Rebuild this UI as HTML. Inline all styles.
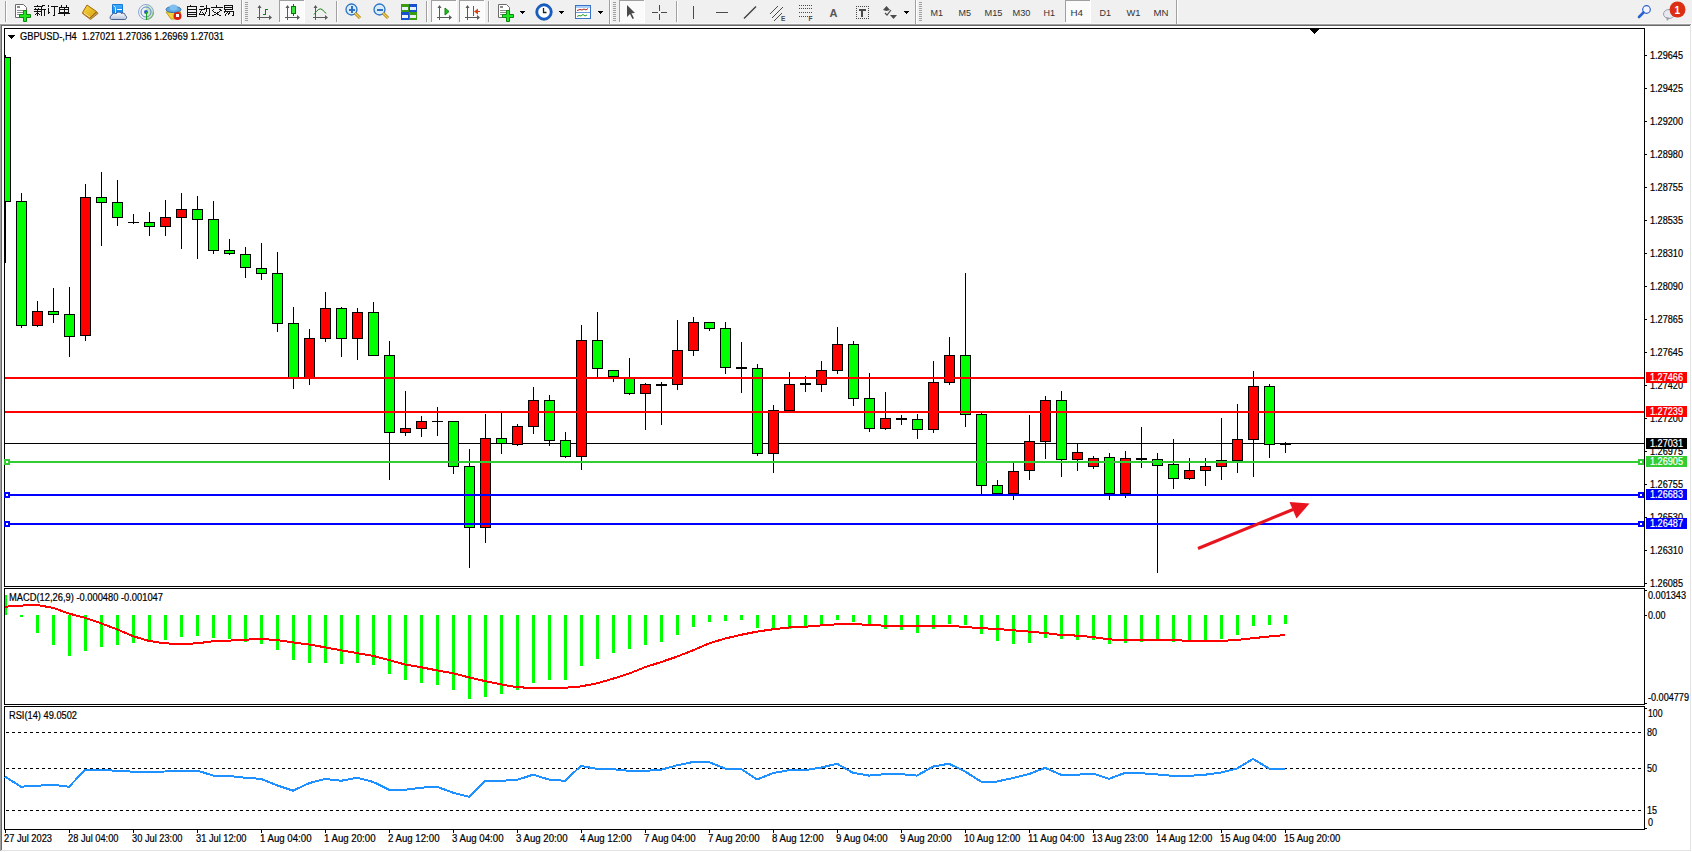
<!DOCTYPE html>
<html><head><meta charset="utf-8"><style>
html,body{margin:0;padding:0;width:1692px;height:852px;overflow:hidden;background:#fff}
svg{display:block}
text{font-family:"Liberation Sans",sans-serif;}
</style></head><body>
<svg width="1692" height="852" viewBox="0 0 1692 852" shape-rendering="crispEdges"><rect x="0" y="0" width="1692" height="24" fill="#f0f0f0"/>
<rect x="0" y="24" width="1691" height="1" fill="#a0a0a0"/>
<rect x="0" y="24" width="1" height="827" fill="#a0a0a0"/>
<rect x="1" y="25" width="1689" height="1" fill="#696969"/>
<rect x="1" y="25" width="1" height="825" fill="#696969"/>
<rect x="1691" y="24" width="1" height="828" fill="#ffffff"/>
<rect x="0" y="851" width="1692" height="1" fill="#ffffff"/>
<rect x="1690" y="25" width="1" height="826" fill="#e3e3e3"/>
<rect x="1" y="850" width="1690" height="1" fill="#e3e3e3"/>
<rect x="2" y="26" width="1688" height="824" fill="#ffffff"/>
<rect x="4" y="28" width="1641" height="1" fill="#000"/>
<rect x="4" y="586" width="1641" height="1" fill="#000"/>
<rect x="4" y="588" width="1641" height="1" fill="#000"/>
<rect x="4" y="704" width="1641" height="1" fill="#000"/>
<rect x="4" y="706" width="1641" height="1" fill="#000"/>
<rect x="4" y="829" width="1641" height="1" fill="#000"/>
<rect x="4" y="28" width="1" height="559" fill="#000"/>
<rect x="1644" y="28" width="1" height="559" fill="#000"/>
<rect x="4" y="588" width="1" height="117" fill="#000"/>
<rect x="1644" y="588" width="1" height="117" fill="#000"/>
<rect x="4" y="706" width="1" height="124" fill="#000"/>
<rect x="1644" y="706" width="1" height="124" fill="#000"/>
<polygon points="1309.5,29 1319.5,29 1314.5,34.5" fill="#000"/>
<rect x="5" y="443" width="1639" height="1" fill="#000"/>
<rect x="5" y="55" width="1" height="2" fill="#000"/>
<rect x="5" y="202" width="1" height="61" fill="#000"/>
<rect x="5" y="57" width="6" height="145" fill="#000"/>
<rect x="5" y="58" width="5" height="143" fill="#00ff00"/>
<rect x="21" y="193" width="1" height="8" fill="#000"/>
<rect x="21" y="326" width="1" height="2" fill="#000"/>
<rect x="16" y="201" width="11" height="125" fill="#000"/>
<rect x="17" y="202" width="9" height="123" fill="#00ff00"/>
<rect x="37" y="301" width="1" height="10" fill="#000"/>
<rect x="37" y="326" width="1" height="1" fill="#000"/>
<rect x="32" y="311" width="11" height="15" fill="#000"/>
<rect x="33" y="312" width="9" height="13" fill="#ff0000"/>
<rect x="53" y="288" width="1" height="23" fill="#000"/>
<rect x="53" y="315" width="1" height="8" fill="#000"/>
<rect x="48" y="311" width="11" height="4" fill="#000"/>
<rect x="49" y="312" width="9" height="2" fill="#00ff00"/>
<rect x="69" y="287" width="1" height="27" fill="#000"/>
<rect x="69" y="337" width="1" height="20" fill="#000"/>
<rect x="64" y="314" width="11" height="23" fill="#000"/>
<rect x="65" y="315" width="9" height="21" fill="#00ff00"/>
<rect x="85" y="184" width="1" height="13" fill="#000"/>
<rect x="85" y="336" width="1" height="5" fill="#000"/>
<rect x="80" y="197" width="11" height="139" fill="#000"/>
<rect x="81" y="198" width="9" height="137" fill="#ff0000"/>
<rect x="101" y="172" width="1" height="25" fill="#000"/>
<rect x="101" y="203" width="1" height="43" fill="#000"/>
<rect x="96" y="197" width="11" height="6" fill="#000"/>
<rect x="97" y="198" width="9" height="4" fill="#00ff00"/>
<rect x="117" y="180" width="1" height="22" fill="#000"/>
<rect x="117" y="218" width="1" height="8" fill="#000"/>
<rect x="112" y="202" width="11" height="16" fill="#000"/>
<rect x="113" y="203" width="9" height="14" fill="#00ff00"/>
<rect x="133" y="214" width="1" height="8" fill="#000"/>
<rect x="133" y="223" width="1" height="1" fill="#000"/>
<rect x="128" y="222" width="11" height="1" fill="#000"/>
<rect x="149" y="212" width="1" height="10" fill="#000"/>
<rect x="149" y="227" width="1" height="9" fill="#000"/>
<rect x="144" y="222" width="11" height="5" fill="#000"/>
<rect x="145" y="223" width="9" height="3" fill="#00ff00"/>
<rect x="165" y="200" width="1" height="17" fill="#000"/>
<rect x="165" y="227" width="1" height="9" fill="#000"/>
<rect x="160" y="217" width="11" height="10" fill="#000"/>
<rect x="161" y="218" width="9" height="8" fill="#ff0000"/>
<rect x="181" y="193" width="1" height="16" fill="#000"/>
<rect x="181" y="218" width="1" height="31" fill="#000"/>
<rect x="176" y="209" width="11" height="9" fill="#000"/>
<rect x="177" y="210" width="9" height="7" fill="#ff0000"/>
<rect x="197" y="196" width="1" height="13" fill="#000"/>
<rect x="197" y="220" width="1" height="39" fill="#000"/>
<rect x="192" y="209" width="11" height="11" fill="#000"/>
<rect x="193" y="210" width="9" height="9" fill="#00ff00"/>
<rect x="213" y="201" width="1" height="18" fill="#000"/>
<rect x="213" y="251" width="1" height="3" fill="#000"/>
<rect x="208" y="219" width="11" height="32" fill="#000"/>
<rect x="209" y="220" width="9" height="30" fill="#00ff00"/>
<rect x="229" y="239" width="1" height="11" fill="#000"/>
<rect x="229" y="254" width="1" height="1" fill="#000"/>
<rect x="224" y="250" width="11" height="4" fill="#000"/>
<rect x="225" y="251" width="9" height="2" fill="#00ff00"/>
<rect x="245" y="247" width="1" height="7" fill="#000"/>
<rect x="245" y="268" width="1" height="10" fill="#000"/>
<rect x="240" y="254" width="11" height="14" fill="#000"/>
<rect x="241" y="255" width="9" height="12" fill="#00ff00"/>
<rect x="261" y="243" width="1" height="25" fill="#000"/>
<rect x="261" y="274" width="1" height="6" fill="#000"/>
<rect x="256" y="268" width="11" height="6" fill="#000"/>
<rect x="257" y="269" width="9" height="4" fill="#00ff00"/>
<rect x="277" y="252" width="1" height="21" fill="#000"/>
<rect x="277" y="324" width="1" height="8" fill="#000"/>
<rect x="272" y="273" width="11" height="51" fill="#000"/>
<rect x="273" y="274" width="9" height="49" fill="#00ff00"/>
<rect x="293" y="307" width="1" height="16" fill="#000"/>
<rect x="293" y="378" width="1" height="11" fill="#000"/>
<rect x="288" y="323" width="11" height="55" fill="#000"/>
<rect x="289" y="324" width="9" height="53" fill="#00ff00"/>
<rect x="309" y="329" width="1" height="9" fill="#000"/>
<rect x="309" y="378" width="1" height="7" fill="#000"/>
<rect x="304" y="338" width="11" height="40" fill="#000"/>
<rect x="305" y="339" width="9" height="38" fill="#ff0000"/>
<rect x="325" y="292" width="1" height="16" fill="#000"/>
<rect x="325" y="339" width="1" height="3" fill="#000"/>
<rect x="320" y="308" width="11" height="31" fill="#000"/>
<rect x="321" y="309" width="9" height="29" fill="#ff0000"/>
<rect x="341" y="307" width="1" height="1" fill="#000"/>
<rect x="341" y="339" width="1" height="18" fill="#000"/>
<rect x="336" y="308" width="11" height="31" fill="#000"/>
<rect x="337" y="309" width="9" height="29" fill="#00ff00"/>
<rect x="357" y="308" width="1" height="4" fill="#000"/>
<rect x="357" y="339" width="1" height="21" fill="#000"/>
<rect x="352" y="312" width="11" height="27" fill="#000"/>
<rect x="353" y="313" width="9" height="25" fill="#ff0000"/>
<rect x="373" y="302" width="1" height="10" fill="#000"/>
<rect x="368" y="312" width="11" height="44" fill="#000"/>
<rect x="369" y="313" width="9" height="42" fill="#00ff00"/>
<rect x="389" y="341" width="1" height="14" fill="#000"/>
<rect x="389" y="433" width="1" height="47" fill="#000"/>
<rect x="384" y="355" width="11" height="78" fill="#000"/>
<rect x="385" y="356" width="9" height="76" fill="#00ff00"/>
<rect x="405" y="391" width="1" height="37" fill="#000"/>
<rect x="405" y="433" width="1" height="3" fill="#000"/>
<rect x="400" y="428" width="11" height="5" fill="#000"/>
<rect x="401" y="429" width="9" height="3" fill="#ff0000"/>
<rect x="421" y="416" width="1" height="5" fill="#000"/>
<rect x="421" y="429" width="1" height="8" fill="#000"/>
<rect x="416" y="421" width="11" height="8" fill="#000"/>
<rect x="417" y="422" width="9" height="6" fill="#ff0000"/>
<rect x="437" y="407" width="1" height="14" fill="#000"/>
<rect x="437" y="422" width="1" height="14" fill="#000"/>
<rect x="432" y="421" width="11" height="1" fill="#000"/>
<rect x="453" y="467" width="1" height="7" fill="#000"/>
<rect x="448" y="421" width="11" height="46" fill="#000"/>
<rect x="449" y="422" width="9" height="44" fill="#00ff00"/>
<rect x="469" y="449" width="1" height="17" fill="#000"/>
<rect x="469" y="528" width="1" height="40" fill="#000"/>
<rect x="464" y="466" width="11" height="62" fill="#000"/>
<rect x="465" y="467" width="9" height="60" fill="#00ff00"/>
<rect x="485" y="414" width="1" height="24" fill="#000"/>
<rect x="485" y="528" width="1" height="15" fill="#000"/>
<rect x="480" y="438" width="11" height="90" fill="#000"/>
<rect x="481" y="439" width="9" height="88" fill="#ff0000"/>
<rect x="501" y="413" width="1" height="25" fill="#000"/>
<rect x="501" y="444" width="1" height="10" fill="#000"/>
<rect x="496" y="438" width="11" height="6" fill="#000"/>
<rect x="497" y="439" width="9" height="4" fill="#00ff00"/>
<rect x="517" y="424" width="1" height="2" fill="#000"/>
<rect x="517" y="445" width="1" height="1" fill="#000"/>
<rect x="512" y="426" width="11" height="19" fill="#000"/>
<rect x="513" y="427" width="9" height="17" fill="#ff0000"/>
<rect x="533" y="387" width="1" height="13" fill="#000"/>
<rect x="533" y="427" width="1" height="7" fill="#000"/>
<rect x="528" y="400" width="11" height="27" fill="#000"/>
<rect x="529" y="401" width="9" height="25" fill="#ff0000"/>
<rect x="549" y="395" width="1" height="5" fill="#000"/>
<rect x="549" y="441" width="1" height="5" fill="#000"/>
<rect x="544" y="400" width="11" height="41" fill="#000"/>
<rect x="545" y="401" width="9" height="39" fill="#00ff00"/>
<rect x="565" y="432" width="1" height="8" fill="#000"/>
<rect x="565" y="457" width="1" height="1" fill="#000"/>
<rect x="560" y="440" width="11" height="17" fill="#000"/>
<rect x="561" y="441" width="9" height="15" fill="#00ff00"/>
<rect x="581" y="325" width="1" height="15" fill="#000"/>
<rect x="581" y="457" width="1" height="13" fill="#000"/>
<rect x="576" y="340" width="11" height="117" fill="#000"/>
<rect x="577" y="341" width="9" height="115" fill="#ff0000"/>
<rect x="597" y="312" width="1" height="28" fill="#000"/>
<rect x="597" y="369" width="1" height="9" fill="#000"/>
<rect x="592" y="340" width="11" height="29" fill="#000"/>
<rect x="593" y="341" width="9" height="27" fill="#00ff00"/>
<rect x="613" y="377" width="1" height="5" fill="#000"/>
<rect x="608" y="370" width="11" height="7" fill="#000"/>
<rect x="609" y="371" width="9" height="5" fill="#00ff00"/>
<rect x="629" y="358" width="1" height="20" fill="#000"/>
<rect x="629" y="394" width="1" height="1" fill="#000"/>
<rect x="624" y="378" width="11" height="16" fill="#000"/>
<rect x="625" y="379" width="9" height="14" fill="#00ff00"/>
<rect x="645" y="383" width="1" height="1" fill="#000"/>
<rect x="645" y="394" width="1" height="36" fill="#000"/>
<rect x="640" y="384" width="11" height="10" fill="#000"/>
<rect x="641" y="385" width="9" height="8" fill="#ff0000"/>
<rect x="661" y="382" width="1" height="2" fill="#000"/>
<rect x="661" y="386" width="1" height="39" fill="#000"/>
<rect x="656" y="384" width="11" height="2" fill="#000"/>
<rect x="677" y="320" width="1" height="30" fill="#000"/>
<rect x="677" y="385" width="1" height="5" fill="#000"/>
<rect x="672" y="350" width="11" height="35" fill="#000"/>
<rect x="673" y="351" width="9" height="33" fill="#ff0000"/>
<rect x="693" y="317" width="1" height="5" fill="#000"/>
<rect x="693" y="351" width="1" height="5" fill="#000"/>
<rect x="688" y="322" width="11" height="29" fill="#000"/>
<rect x="689" y="323" width="9" height="27" fill="#ff0000"/>
<rect x="709" y="329" width="1" height="2" fill="#000"/>
<rect x="704" y="322" width="11" height="7" fill="#000"/>
<rect x="705" y="323" width="9" height="5" fill="#00ff00"/>
<rect x="725" y="322" width="1" height="6" fill="#000"/>
<rect x="725" y="368" width="1" height="6" fill="#000"/>
<rect x="720" y="328" width="11" height="40" fill="#000"/>
<rect x="721" y="329" width="9" height="38" fill="#00ff00"/>
<rect x="741" y="342" width="1" height="25" fill="#000"/>
<rect x="741" y="369" width="1" height="24" fill="#000"/>
<rect x="736" y="367" width="11" height="2" fill="#000"/>
<rect x="757" y="364" width="1" height="4" fill="#000"/>
<rect x="757" y="454" width="1" height="2" fill="#000"/>
<rect x="752" y="368" width="11" height="86" fill="#000"/>
<rect x="753" y="369" width="9" height="84" fill="#00ff00"/>
<rect x="773" y="405" width="1" height="5" fill="#000"/>
<rect x="773" y="454" width="1" height="19" fill="#000"/>
<rect x="768" y="410" width="11" height="44" fill="#000"/>
<rect x="769" y="411" width="9" height="42" fill="#ff0000"/>
<rect x="789" y="372" width="1" height="12" fill="#000"/>
<rect x="784" y="384" width="11" height="27" fill="#000"/>
<rect x="785" y="385" width="9" height="25" fill="#ff0000"/>
<rect x="805" y="376" width="1" height="7" fill="#000"/>
<rect x="805" y="385" width="1" height="7" fill="#000"/>
<rect x="800" y="383" width="11" height="2" fill="#000"/>
<rect x="821" y="361" width="1" height="9" fill="#000"/>
<rect x="821" y="385" width="1" height="7" fill="#000"/>
<rect x="816" y="370" width="11" height="15" fill="#000"/>
<rect x="817" y="371" width="9" height="13" fill="#ff0000"/>
<rect x="837" y="327" width="1" height="17" fill="#000"/>
<rect x="837" y="371" width="1" height="3" fill="#000"/>
<rect x="832" y="344" width="11" height="27" fill="#000"/>
<rect x="833" y="345" width="9" height="25" fill="#ff0000"/>
<rect x="853" y="341" width="1" height="3" fill="#000"/>
<rect x="853" y="399" width="1" height="7" fill="#000"/>
<rect x="848" y="344" width="11" height="55" fill="#000"/>
<rect x="849" y="345" width="9" height="53" fill="#00ff00"/>
<rect x="869" y="373" width="1" height="25" fill="#000"/>
<rect x="869" y="429" width="1" height="3" fill="#000"/>
<rect x="864" y="398" width="11" height="31" fill="#000"/>
<rect x="865" y="399" width="9" height="29" fill="#00ff00"/>
<rect x="885" y="392" width="1" height="26" fill="#000"/>
<rect x="885" y="429" width="1" height="1" fill="#000"/>
<rect x="880" y="418" width="11" height="11" fill="#000"/>
<rect x="881" y="419" width="9" height="9" fill="#ff0000"/>
<rect x="901" y="415" width="1" height="3" fill="#000"/>
<rect x="901" y="420" width="1" height="5" fill="#000"/>
<rect x="896" y="418" width="11" height="2" fill="#000"/>
<rect x="917" y="414" width="1" height="5" fill="#000"/>
<rect x="917" y="430" width="1" height="9" fill="#000"/>
<rect x="912" y="419" width="11" height="11" fill="#000"/>
<rect x="913" y="420" width="9" height="9" fill="#00ff00"/>
<rect x="933" y="361" width="1" height="21" fill="#000"/>
<rect x="933" y="430" width="1" height="3" fill="#000"/>
<rect x="928" y="382" width="11" height="48" fill="#000"/>
<rect x="929" y="383" width="9" height="46" fill="#ff0000"/>
<rect x="949" y="337" width="1" height="18" fill="#000"/>
<rect x="949" y="383" width="1" height="2" fill="#000"/>
<rect x="944" y="355" width="11" height="28" fill="#000"/>
<rect x="945" y="356" width="9" height="26" fill="#ff0000"/>
<rect x="965" y="273" width="1" height="82" fill="#000"/>
<rect x="965" y="415" width="1" height="12" fill="#000"/>
<rect x="960" y="355" width="11" height="60" fill="#000"/>
<rect x="961" y="356" width="9" height="58" fill="#00ff00"/>
<rect x="981" y="413" width="1" height="1" fill="#000"/>
<rect x="981" y="486" width="1" height="8" fill="#000"/>
<rect x="976" y="414" width="11" height="72" fill="#000"/>
<rect x="977" y="415" width="9" height="70" fill="#00ff00"/>
<rect x="997" y="480" width="1" height="5" fill="#000"/>
<rect x="992" y="485" width="11" height="9" fill="#000"/>
<rect x="993" y="486" width="9" height="7" fill="#00ff00"/>
<rect x="1013" y="463" width="1" height="8" fill="#000"/>
<rect x="1013" y="494" width="1" height="6" fill="#000"/>
<rect x="1008" y="471" width="11" height="23" fill="#000"/>
<rect x="1009" y="472" width="9" height="21" fill="#ff0000"/>
<rect x="1029" y="415" width="1" height="26" fill="#000"/>
<rect x="1029" y="471" width="1" height="9" fill="#000"/>
<rect x="1024" y="441" width="11" height="30" fill="#000"/>
<rect x="1025" y="442" width="9" height="28" fill="#ff0000"/>
<rect x="1045" y="396" width="1" height="4" fill="#000"/>
<rect x="1045" y="442" width="1" height="17" fill="#000"/>
<rect x="1040" y="400" width="11" height="42" fill="#000"/>
<rect x="1041" y="401" width="9" height="40" fill="#ff0000"/>
<rect x="1061" y="391" width="1" height="9" fill="#000"/>
<rect x="1061" y="460" width="1" height="17" fill="#000"/>
<rect x="1056" y="400" width="11" height="60" fill="#000"/>
<rect x="1057" y="401" width="9" height="58" fill="#00ff00"/>
<rect x="1077" y="443" width="1" height="9" fill="#000"/>
<rect x="1077" y="460" width="1" height="11" fill="#000"/>
<rect x="1072" y="452" width="11" height="8" fill="#000"/>
<rect x="1073" y="453" width="9" height="6" fill="#ff0000"/>
<rect x="1093" y="456" width="1" height="2" fill="#000"/>
<rect x="1093" y="467" width="1" height="2" fill="#000"/>
<rect x="1088" y="458" width="11" height="9" fill="#000"/>
<rect x="1089" y="459" width="9" height="7" fill="#ff0000"/>
<rect x="1109" y="453" width="1" height="4" fill="#000"/>
<rect x="1109" y="494" width="1" height="6" fill="#000"/>
<rect x="1104" y="457" width="11" height="37" fill="#000"/>
<rect x="1105" y="458" width="9" height="35" fill="#00ff00"/>
<rect x="1125" y="451" width="1" height="7" fill="#000"/>
<rect x="1125" y="494" width="1" height="4" fill="#000"/>
<rect x="1120" y="458" width="11" height="36" fill="#000"/>
<rect x="1121" y="459" width="9" height="34" fill="#ff0000"/>
<rect x="1141" y="427" width="1" height="31" fill="#000"/>
<rect x="1141" y="460" width="1" height="8" fill="#000"/>
<rect x="1136" y="458" width="11" height="2" fill="#000"/>
<rect x="1157" y="453" width="1" height="6" fill="#000"/>
<rect x="1157" y="466" width="1" height="107" fill="#000"/>
<rect x="1152" y="459" width="11" height="7" fill="#000"/>
<rect x="1153" y="460" width="9" height="5" fill="#00ff00"/>
<rect x="1173" y="439" width="1" height="25" fill="#000"/>
<rect x="1173" y="479" width="1" height="10" fill="#000"/>
<rect x="1168" y="464" width="11" height="15" fill="#000"/>
<rect x="1169" y="465" width="9" height="13" fill="#00ff00"/>
<rect x="1189" y="458" width="1" height="12" fill="#000"/>
<rect x="1189" y="479" width="1" height="1" fill="#000"/>
<rect x="1184" y="470" width="11" height="9" fill="#000"/>
<rect x="1185" y="471" width="9" height="7" fill="#ff0000"/>
<rect x="1205" y="458" width="1" height="8" fill="#000"/>
<rect x="1205" y="471" width="1" height="15" fill="#000"/>
<rect x="1200" y="466" width="11" height="5" fill="#000"/>
<rect x="1201" y="467" width="9" height="3" fill="#ff0000"/>
<rect x="1221" y="418" width="1" height="42" fill="#000"/>
<rect x="1221" y="467" width="1" height="13" fill="#000"/>
<rect x="1216" y="460" width="11" height="7" fill="#000"/>
<rect x="1217" y="461" width="9" height="5" fill="#ff0000"/>
<rect x="1237" y="404" width="1" height="35" fill="#000"/>
<rect x="1237" y="461" width="1" height="12" fill="#000"/>
<rect x="1232" y="439" width="11" height="22" fill="#000"/>
<rect x="1233" y="440" width="9" height="20" fill="#ff0000"/>
<rect x="1253" y="371" width="1" height="15" fill="#000"/>
<rect x="1253" y="440" width="1" height="37" fill="#000"/>
<rect x="1248" y="386" width="11" height="54" fill="#000"/>
<rect x="1249" y="387" width="9" height="52" fill="#ff0000"/>
<rect x="1269" y="384" width="1" height="2" fill="#000"/>
<rect x="1269" y="445" width="1" height="13" fill="#000"/>
<rect x="1264" y="386" width="11" height="59" fill="#000"/>
<rect x="1265" y="387" width="9" height="57" fill="#00ff00"/>
<rect x="1285" y="442" width="1" height="1" fill="#000"/>
<rect x="1285" y="445" width="1" height="8" fill="#000"/>
<rect x="1280" y="443" width="11" height="2" fill="#000"/>
<rect x="5" y="377" width="1639" height="2" fill="#ff0000"/>
<rect x="5" y="411" width="1639" height="2" fill="#ff0000"/>
<rect x="5" y="461" width="1639" height="2" fill="#32cd32"/>
<rect x="4" y="459" width="6" height="6" fill="#32cd32"/>
<rect x="6" y="461" width="2" height="2" fill="#fff"/>
<rect x="1638" y="459" width="6" height="6" fill="#32cd32"/>
<rect x="1640" y="461" width="2" height="2" fill="#fff"/>
<rect x="5" y="494" width="1639" height="2" fill="#0000ff"/>
<rect x="4" y="492" width="6" height="6" fill="#0000ff"/>
<rect x="6" y="494" width="2" height="2" fill="#fff"/>
<rect x="1638" y="492" width="6" height="6" fill="#0000ff"/>
<rect x="1640" y="494" width="2" height="2" fill="#fff"/>
<rect x="5" y="523" width="1639" height="2" fill="#0000ff"/>
<rect x="4" y="521" width="6" height="6" fill="#0000ff"/>
<rect x="6" y="523" width="2" height="2" fill="#fff"/>
<rect x="1638" y="521" width="6" height="6" fill="#0000ff"/>
<rect x="1640" y="523" width="2" height="2" fill="#fff"/>
<rect x="5" y="595" width="2" height="20" fill="#00ff00"/>
<rect x="20" y="615" width="3" height="2" fill="#00ff00"/>
<rect x="36" y="615" width="3" height="18" fill="#00ff00"/>
<rect x="52" y="615" width="3" height="30" fill="#00ff00"/>
<rect x="68" y="615" width="3" height="41" fill="#00ff00"/>
<rect x="84" y="615" width="3" height="36" fill="#00ff00"/>
<rect x="100" y="615" width="3" height="32" fill="#00ff00"/>
<rect x="116" y="615" width="3" height="30" fill="#00ff00"/>
<rect x="132" y="615" width="3" height="28" fill="#00ff00"/>
<rect x="148" y="615" width="3" height="26" fill="#00ff00"/>
<rect x="164" y="615" width="3" height="25" fill="#00ff00"/>
<rect x="180" y="615" width="3" height="22" fill="#00ff00"/>
<rect x="196" y="615" width="3" height="21" fill="#00ff00"/>
<rect x="212" y="615" width="3" height="23" fill="#00ff00"/>
<rect x="228" y="615" width="3" height="24" fill="#00ff00"/>
<rect x="244" y="615" width="3" height="27" fill="#00ff00"/>
<rect x="260" y="615" width="3" height="29" fill="#00ff00"/>
<rect x="276" y="615" width="3" height="35" fill="#00ff00"/>
<rect x="292" y="615" width="3" height="45" fill="#00ff00"/>
<rect x="308" y="615" width="3" height="48" fill="#00ff00"/>
<rect x="324" y="615" width="3" height="48" fill="#00ff00"/>
<rect x="340" y="615" width="3" height="49" fill="#00ff00"/>
<rect x="356" y="615" width="3" height="48" fill="#00ff00"/>
<rect x="372" y="615" width="3" height="50" fill="#00ff00"/>
<rect x="388" y="615" width="3" height="59" fill="#00ff00"/>
<rect x="404" y="615" width="3" height="65" fill="#00ff00"/>
<rect x="420" y="615" width="3" height="68" fill="#00ff00"/>
<rect x="436" y="615" width="3" height="70" fill="#00ff00"/>
<rect x="452" y="615" width="3" height="75" fill="#00ff00"/>
<rect x="468" y="615" width="3" height="84" fill="#00ff00"/>
<rect x="484" y="615" width="3" height="82" fill="#00ff00"/>
<rect x="500" y="615" width="3" height="79" fill="#00ff00"/>
<rect x="516" y="615" width="3" height="75" fill="#00ff00"/>
<rect x="532" y="615" width="3" height="68" fill="#00ff00"/>
<rect x="548" y="615" width="3" height="65" fill="#00ff00"/>
<rect x="564" y="615" width="3" height="65" fill="#00ff00"/>
<rect x="580" y="615" width="3" height="51" fill="#00ff00"/>
<rect x="596" y="615" width="3" height="44" fill="#00ff00"/>
<rect x="612" y="615" width="3" height="38" fill="#00ff00"/>
<rect x="628" y="615" width="3" height="34" fill="#00ff00"/>
<rect x="644" y="615" width="3" height="30" fill="#00ff00"/>
<rect x="660" y="615" width="3" height="27" fill="#00ff00"/>
<rect x="676" y="615" width="3" height="20" fill="#00ff00"/>
<rect x="692" y="615" width="3" height="12" fill="#00ff00"/>
<rect x="708" y="615" width="3" height="7" fill="#00ff00"/>
<rect x="724" y="615" width="3" height="6" fill="#00ff00"/>
<rect x="740" y="615" width="3" height="5" fill="#00ff00"/>
<rect x="756" y="615" width="3" height="13" fill="#00ff00"/>
<rect x="772" y="615" width="3" height="14" fill="#00ff00"/>
<rect x="788" y="615" width="3" height="14" fill="#00ff00"/>
<rect x="804" y="615" width="3" height="13" fill="#00ff00"/>
<rect x="820" y="615" width="3" height="10" fill="#00ff00"/>
<rect x="836" y="615" width="3" height="5" fill="#00ff00"/>
<rect x="852" y="615" width="3" height="7" fill="#00ff00"/>
<rect x="868" y="615" width="3" height="10" fill="#00ff00"/>
<rect x="884" y="615" width="3" height="14" fill="#00ff00"/>
<rect x="900" y="615" width="3" height="15" fill="#00ff00"/>
<rect x="916" y="615" width="3" height="18" fill="#00ff00"/>
<rect x="932" y="615" width="3" height="14" fill="#00ff00"/>
<rect x="948" y="615" width="3" height="9" fill="#00ff00"/>
<rect x="964" y="615" width="3" height="10" fill="#00ff00"/>
<rect x="980" y="615" width="3" height="19" fill="#00ff00"/>
<rect x="996" y="615" width="3" height="26" fill="#00ff00"/>
<rect x="1012" y="615" width="3" height="29" fill="#00ff00"/>
<rect x="1028" y="615" width="3" height="28" fill="#00ff00"/>
<rect x="1044" y="615" width="3" height="23" fill="#00ff00"/>
<rect x="1060" y="615" width="3" height="24" fill="#00ff00"/>
<rect x="1076" y="615" width="3" height="25" fill="#00ff00"/>
<rect x="1092" y="615" width="3" height="25" fill="#00ff00"/>
<rect x="1108" y="615" width="3" height="29" fill="#00ff00"/>
<rect x="1124" y="615" width="3" height="28" fill="#00ff00"/>
<rect x="1140" y="615" width="3" height="27" fill="#00ff00"/>
<rect x="1156" y="615" width="3" height="25" fill="#00ff00"/>
<rect x="1172" y="615" width="3" height="27" fill="#00ff00"/>
<rect x="1188" y="615" width="3" height="27" fill="#00ff00"/>
<rect x="1204" y="615" width="3" height="25" fill="#00ff00"/>
<rect x="1220" y="615" width="3" height="24" fill="#00ff00"/>
<rect x="1236" y="615" width="3" height="20" fill="#00ff00"/>
<rect x="1252" y="615" width="3" height="11" fill="#00ff00"/>
<rect x="1268" y="615" width="3" height="10" fill="#00ff00"/>
<rect x="1284" y="615" width="3" height="9" fill="#00ff00"/>
<polyline points="5,606.7 21,605.6 37,605.0 53,607.8 69,613.6 85,617.8 101,623.3 117,629.3 133,636.2 149,640.9 165,643.4 181,643.8 197,643.4 213,641.2 229,640.6 245,639.7 261,639.0 277,640.0 293,642.4 309,644.5 325,647.3 341,650.3 357,653.1 373,655.9 389,660.0 405,664.5 421,667.2 437,670.4 453,673.2 469,677.4 485,681.1 501,684.3 517,687.3 533,687.8 549,687.8 565,687.8 581,686.4 597,683.3 613,678.7 629,673.6 645,667.2 661,662.1 677,656.6 693,650.3 709,643.4 725,638.6 741,634.8 757,631.6 773,629.3 789,627.5 805,626.8 821,625.4 837,624.3 853,624.0 869,624.9 885,625.7 901,625.7 917,625.7 933,625.7 949,625.7 965,627.0 981,628.2 997,628.9 1013,630.3 1029,631.6 1045,633.0 1061,635.0 1077,635.6 1093,637.0 1109,639.4 1125,640.0 1141,640.0 1157,640.0 1173,640.0 1189,640.9 1205,640.9 1221,640.9 1237,640.0 1253,638.2 1269,636.5 1285,635.0" fill="none" stroke="#ff0000" stroke-width="2" shape-rendering="crispEdges"/>
<line x1="6" y1="732.5" x2="1641" y2="732.5" stroke="#000" stroke-width="1" stroke-dasharray="3 3" shape-rendering="crispEdges"/>
<line x1="6" y1="768.5" x2="1641" y2="768.5" stroke="#000" stroke-width="1" stroke-dasharray="3 3" shape-rendering="crispEdges"/>
<line x1="6" y1="810.5" x2="1641" y2="810.5" stroke="#000" stroke-width="1" stroke-dasharray="3 3" shape-rendering="crispEdges"/>
<polyline points="5,776.7 21,786.7 37,785.8 53,784.7 69,786.8 85,769.9 101,769.8 117,770.8 133,771.7 149,771.7 165,771.5 181,770.5 197,770.5 213,775.5 229,776.0 245,777.7 261,778.9 277,785.4 293,790.7 309,783.2 325,778.9 341,780.8 357,777.7 373,781.9 389,789.7 405,789.7 421,787.7 437,786.8 453,792.7 469,796.8 485,781.0 501,780.8 517,779.9 533,774.7 549,779.6 565,780.8 581,765.9 597,768.9 613,769.2 629,770.8 645,770.8 661,769.8 677,765.3 693,762.0 709,762.0 725,768.6 741,768.9 757,779.6 773,773.1 789,770.2 805,770.2 821,767.6 837,763.7 853,772.8 869,775.6 885,774.1 901,774.1 917,775.6 933,766.6 949,763.7 965,771.5 981,781.5 997,781.5 1013,778.0 1029,774.1 1045,767.9 1061,774.7 1077,774.7 1093,773.6 1109,778.8 1125,772.9 1141,773.2 1157,774.4 1173,775.9 1189,775.9 1205,774.7 1221,772.6 1237,768.5 1253,758.9 1269,768.5 1285,768.5" fill="none" stroke="#1e90ff" stroke-width="2" shape-rendering="crispEdges"/>
<line x1="1198" y1="548.5" x2="1293" y2="509.5" stroke="#e8141e" stroke-width="3" shape-rendering="geometricPrecision"/>
<polygon points="1289.5,502 1309.5,503.5 1296.5,518.5" fill="#e8141e" shape-rendering="geometricPrecision"/>
<polygon points="7.5,35 15.5,35 11.5,39" fill="#000"/>
<text x="20" y="40" fill="#000" stroke="#000" stroke-width="0.2" font-size="10" textLength="204" lengthAdjust="spacingAndGlyphs" xml:space="preserve" style="white-space:pre">GBPUSD-,H4  1.27021 1.27036 1.26969 1.27031</text>
<text x="9" y="601" fill="#000" stroke="#000" stroke-width="0.2" font-size="10" textLength="154" lengthAdjust="spacingAndGlyphs">MACD(12,26,9) -0.000480 -0.001047</text>
<text x="9" y="719" fill="#000" stroke="#000" stroke-width="0.2" font-size="10" textLength="68" lengthAdjust="spacingAndGlyphs">RSI(14) 49.0502</text>
<rect x="1645" y="55" width="2" height="1" fill="#000"/>
<text x="1650" y="59" fill="#000" stroke="#000" stroke-width="0.2" font-size="10" textLength="33" lengthAdjust="spacingAndGlyphs">1.29645</text>
<rect x="1645" y="88" width="2" height="1" fill="#000"/>
<text x="1650" y="92" fill="#000" stroke="#000" stroke-width="0.2" font-size="10" textLength="33" lengthAdjust="spacingAndGlyphs">1.29425</text>
<rect x="1645" y="121" width="2" height="1" fill="#000"/>
<text x="1650" y="125" fill="#000" stroke="#000" stroke-width="0.2" font-size="10" textLength="33" lengthAdjust="spacingAndGlyphs">1.29200</text>
<rect x="1645" y="154" width="2" height="1" fill="#000"/>
<text x="1650" y="158" fill="#000" stroke="#000" stroke-width="0.2" font-size="10" textLength="33" lengthAdjust="spacingAndGlyphs">1.28980</text>
<rect x="1645" y="187" width="2" height="1" fill="#000"/>
<text x="1650" y="191" fill="#000" stroke="#000" stroke-width="0.2" font-size="10" textLength="33" lengthAdjust="spacingAndGlyphs">1.28755</text>
<rect x="1645" y="220" width="2" height="1" fill="#000"/>
<text x="1650" y="224" fill="#000" stroke="#000" stroke-width="0.2" font-size="10" textLength="33" lengthAdjust="spacingAndGlyphs">1.28535</text>
<rect x="1645" y="253" width="2" height="1" fill="#000"/>
<text x="1650" y="257" fill="#000" stroke="#000" stroke-width="0.2" font-size="10" textLength="33" lengthAdjust="spacingAndGlyphs">1.28310</text>
<rect x="1645" y="286" width="2" height="1" fill="#000"/>
<text x="1650" y="290" fill="#000" stroke="#000" stroke-width="0.2" font-size="10" textLength="33" lengthAdjust="spacingAndGlyphs">1.28090</text>
<rect x="1645" y="319" width="2" height="1" fill="#000"/>
<text x="1650" y="323" fill="#000" stroke="#000" stroke-width="0.2" font-size="10" textLength="33" lengthAdjust="spacingAndGlyphs">1.27865</text>
<rect x="1645" y="352" width="2" height="1" fill="#000"/>
<text x="1650" y="356" fill="#000" stroke="#000" stroke-width="0.2" font-size="10" textLength="33" lengthAdjust="spacingAndGlyphs">1.27645</text>
<rect x="1645" y="385" width="2" height="1" fill="#000"/>
<text x="1650" y="389" fill="#000" stroke="#000" stroke-width="0.2" font-size="10" textLength="33" lengthAdjust="spacingAndGlyphs">1.27420</text>
<rect x="1645" y="418" width="2" height="1" fill="#000"/>
<text x="1650" y="422" fill="#000" stroke="#000" stroke-width="0.2" font-size="10" textLength="33" lengthAdjust="spacingAndGlyphs">1.27200</text>
<rect x="1645" y="451" width="2" height="1" fill="#000"/>
<text x="1650" y="455" fill="#000" stroke="#000" stroke-width="0.2" font-size="10" textLength="33" lengthAdjust="spacingAndGlyphs">1.26975</text>
<rect x="1645" y="484" width="2" height="1" fill="#000"/>
<text x="1650" y="488" fill="#000" stroke="#000" stroke-width="0.2" font-size="10" textLength="33" lengthAdjust="spacingAndGlyphs">1.26755</text>
<rect x="1645" y="517" width="2" height="1" fill="#000"/>
<text x="1650" y="521" fill="#000" stroke="#000" stroke-width="0.2" font-size="10" textLength="33" lengthAdjust="spacingAndGlyphs">1.26530</text>
<rect x="1645" y="550" width="2" height="1" fill="#000"/>
<text x="1650" y="554" fill="#000" stroke="#000" stroke-width="0.2" font-size="10" textLength="33" lengthAdjust="spacingAndGlyphs">1.26310</text>
<rect x="1645" y="583" width="2" height="1" fill="#000"/>
<text x="1650" y="587" fill="#000" stroke="#000" stroke-width="0.2" font-size="10" textLength="33" lengthAdjust="spacingAndGlyphs">1.26085</text>
<rect x="1646" y="372" width="41" height="11" fill="#ff0000"/>
<text x="1650" y="381" fill="#fff" stroke="#fff" stroke-width="0.2" font-size="10" textLength="33" lengthAdjust="spacingAndGlyphs">1.27466</text>
<rect x="1646" y="406" width="41" height="11" fill="#ff0000"/>
<text x="1650" y="415" fill="#fff" stroke="#fff" stroke-width="0.2" font-size="10" textLength="33" lengthAdjust="spacingAndGlyphs">1.27239</text>
<rect x="1646" y="438" width="41" height="11" fill="#000000"/>
<text x="1650" y="447" fill="#fff" stroke="#fff" stroke-width="0.2" font-size="10" textLength="33" lengthAdjust="spacingAndGlyphs">1.27031</text>
<rect x="1646" y="456" width="41" height="11" fill="#32cd32"/>
<text x="1650" y="465" fill="#fff" stroke="#fff" stroke-width="0.2" font-size="10" textLength="33" lengthAdjust="spacingAndGlyphs">1.26905</text>
<rect x="1646" y="489" width="41" height="11" fill="#0000ff"/>
<text x="1650" y="498" fill="#fff" stroke="#fff" stroke-width="0.2" font-size="10" textLength="33" lengthAdjust="spacingAndGlyphs">1.26683</text>
<rect x="1646" y="518" width="41" height="11" fill="#0000ff"/>
<text x="1650" y="527" fill="#fff" stroke="#fff" stroke-width="0.2" font-size="10" textLength="33" lengthAdjust="spacingAndGlyphs">1.26487</text>
<rect x="1645" y="590" width="2" height="1" fill="#000"/>
<text x="1648" y="599" fill="#000" stroke="#000" stroke-width="0.2" font-size="10" textLength="38" lengthAdjust="spacingAndGlyphs">0.001343</text>
<rect x="1645" y="615" width="2" height="1" fill="#000"/>
<text x="1648" y="619" fill="#000" stroke="#000" stroke-width="0.2" font-size="10" textLength="17.5" lengthAdjust="spacingAndGlyphs">0.00</text>
<rect x="1645" y="703" width="2" height="1" fill="#000"/>
<text x="1648" y="701" fill="#000" stroke="#000" stroke-width="0.2" font-size="10" textLength="41" lengthAdjust="spacingAndGlyphs">-0.004779</text>
<rect x="1645" y="708" width="2" height="1" fill="#000"/>
<text x="1648" y="717" fill="#000" stroke="#000" stroke-width="0.2" font-size="10" textLength="14.5" lengthAdjust="spacingAndGlyphs">100</text>
<text x="1647" y="736" fill="#000" stroke="#000" stroke-width="0.2" font-size="10" textLength="10" lengthAdjust="spacingAndGlyphs">80</text>
<text x="1647" y="772" fill="#000" stroke="#000" stroke-width="0.2" font-size="10" textLength="10" lengthAdjust="spacingAndGlyphs">50</text>
<text x="1647" y="814" fill="#000" stroke="#000" stroke-width="0.2" font-size="10" textLength="10" lengthAdjust="spacingAndGlyphs">15</text>
<rect x="1645" y="828" width="2" height="1" fill="#000"/>
<text x="1648" y="826" fill="#000" stroke="#000" stroke-width="0.2" font-size="10" textLength="5" lengthAdjust="spacingAndGlyphs">0</text>
<rect x="5" y="830" width="1" height="3" fill="#000"/>
<text x="4" y="842" fill="#000" stroke="#000" stroke-width="0.2" font-size="10" textLength="48" lengthAdjust="spacingAndGlyphs">27 Jul 2023</text>
<rect x="69" y="830" width="1" height="3" fill="#000"/>
<text x="68" y="842" fill="#000" stroke="#000" stroke-width="0.2" font-size="10" textLength="50.5" lengthAdjust="spacingAndGlyphs">28 Jul 04:00</text>
<rect x="133" y="830" width="1" height="3" fill="#000"/>
<text x="132" y="842" fill="#000" stroke="#000" stroke-width="0.2" font-size="10" textLength="50.5" lengthAdjust="spacingAndGlyphs">30 Jul 23:00</text>
<rect x="197" y="830" width="1" height="3" fill="#000"/>
<text x="196" y="842" fill="#000" stroke="#000" stroke-width="0.2" font-size="10" textLength="50.5" lengthAdjust="spacingAndGlyphs">31 Jul 12:00</text>
<rect x="261" y="830" width="1" height="3" fill="#000"/>
<text x="260" y="842" fill="#000" stroke="#000" stroke-width="0.2" font-size="10" textLength="51.5" lengthAdjust="spacingAndGlyphs">1 Aug 04:00</text>
<rect x="325" y="830" width="1" height="3" fill="#000"/>
<text x="324" y="842" fill="#000" stroke="#000" stroke-width="0.2" font-size="10" textLength="51.5" lengthAdjust="spacingAndGlyphs">1 Aug 20:00</text>
<rect x="389" y="830" width="1" height="3" fill="#000"/>
<text x="388" y="842" fill="#000" stroke="#000" stroke-width="0.2" font-size="10" textLength="51.5" lengthAdjust="spacingAndGlyphs">2 Aug 12:00</text>
<rect x="453" y="830" width="1" height="3" fill="#000"/>
<text x="452" y="842" fill="#000" stroke="#000" stroke-width="0.2" font-size="10" textLength="51.5" lengthAdjust="spacingAndGlyphs">3 Aug 04:00</text>
<rect x="517" y="830" width="1" height="3" fill="#000"/>
<text x="516" y="842" fill="#000" stroke="#000" stroke-width="0.2" font-size="10" textLength="51.5" lengthAdjust="spacingAndGlyphs">3 Aug 20:00</text>
<rect x="581" y="830" width="1" height="3" fill="#000"/>
<text x="580" y="842" fill="#000" stroke="#000" stroke-width="0.2" font-size="10" textLength="51.5" lengthAdjust="spacingAndGlyphs">4 Aug 12:00</text>
<rect x="645" y="830" width="1" height="3" fill="#000"/>
<text x="644" y="842" fill="#000" stroke="#000" stroke-width="0.2" font-size="10" textLength="51.5" lengthAdjust="spacingAndGlyphs">7 Aug 04:00</text>
<rect x="709" y="830" width="1" height="3" fill="#000"/>
<text x="708" y="842" fill="#000" stroke="#000" stroke-width="0.2" font-size="10" textLength="51.5" lengthAdjust="spacingAndGlyphs">7 Aug 20:00</text>
<rect x="773" y="830" width="1" height="3" fill="#000"/>
<text x="772" y="842" fill="#000" stroke="#000" stroke-width="0.2" font-size="10" textLength="51.5" lengthAdjust="spacingAndGlyphs">8 Aug 12:00</text>
<rect x="837" y="830" width="1" height="3" fill="#000"/>
<text x="836" y="842" fill="#000" stroke="#000" stroke-width="0.2" font-size="10" textLength="51.5" lengthAdjust="spacingAndGlyphs">9 Aug 04:00</text>
<rect x="901" y="830" width="1" height="3" fill="#000"/>
<text x="900" y="842" fill="#000" stroke="#000" stroke-width="0.2" font-size="10" textLength="51.5" lengthAdjust="spacingAndGlyphs">9 Aug 20:00</text>
<rect x="965" y="830" width="1" height="3" fill="#000"/>
<text x="964" y="842" fill="#000" stroke="#000" stroke-width="0.2" font-size="10" textLength="56.3" lengthAdjust="spacingAndGlyphs">10 Aug 12:00</text>
<rect x="1029" y="830" width="1" height="3" fill="#000"/>
<text x="1028" y="842" fill="#000" stroke="#000" stroke-width="0.2" font-size="10" textLength="56.3" lengthAdjust="spacingAndGlyphs">11 Aug 04:00</text>
<rect x="1093" y="830" width="1" height="3" fill="#000"/>
<text x="1092" y="842" fill="#000" stroke="#000" stroke-width="0.2" font-size="10" textLength="56.3" lengthAdjust="spacingAndGlyphs">13 Aug 23:00</text>
<rect x="1157" y="830" width="1" height="3" fill="#000"/>
<text x="1156" y="842" fill="#000" stroke="#000" stroke-width="0.2" font-size="10" textLength="56.3" lengthAdjust="spacingAndGlyphs">14 Aug 12:00</text>
<rect x="1221" y="830" width="1" height="3" fill="#000"/>
<text x="1220" y="842" fill="#000" stroke="#000" stroke-width="0.2" font-size="10" textLength="56.3" lengthAdjust="spacingAndGlyphs">15 Aug 04:00</text>
<rect x="1285" y="830" width="1" height="3" fill="#000"/>
<text x="1284" y="842" fill="#000" stroke="#000" stroke-width="0.2" font-size="10" textLength="56.3" lengthAdjust="spacingAndGlyphs">15 Aug 20:00</text>
<rect x="0" y="23" width="1692" height="1" fill="#f7f7f7"/>
<rect x="5" y="1" width="1" height="21" fill="#a0a0a0"/>
<rect x="6" y="1" width="1" height="21" fill="#ffffff"/>
<path d="M15.5,4.5 h8 l3,3 v10 h-11 z" fill="#ffffff" stroke="#6a6a6a" stroke-width="1" shape-rendering="geometricPrecision"/>
<rect x="17" y="6" width="3" height="2" fill="#8a8a8a"/>
<rect x="17" y="10" width="7" height="1" fill="#8a8a8a"/>
<rect x="17" y="12" width="6" height="1" fill="#8a8a8a"/>
<rect x="17" y="14" width="5" height="1" fill="#8a8a8a"/>
<path d="M23.5,10.5 h3 v4 h4 v3 h-4 v4 h-3 v-4 h-4 v-3 h4 z" fill="#22e622" stroke="#0a8a0a" stroke-width="1" shape-rendering="geometricPrecision"/>
<path d="M3.5,0 v1.5 M0,1.5 h6.5 M1.5,2.5 v1 M4.5,2.5 v1 M0,4.5 h6.5 M0,6.5 h6.5 M3.5,4.5 v6 M2.5,8.5 l-2,2 M4.5,8.5 l1.5,1.5 M10.5,0 l-3,1.5 M7.5,1.5 v9 M7.5,4.5 h4.5 M10.5,4.5 v6.5" fill="none" stroke="#111" stroke-width="1" transform="translate(34,5)" shape-rendering="crispEdges"/>
<path d="M2,0 l1,1.5 M1.5,3.5 h1 v5 l1.5,-1.5 M5,1.5 h7 M8.5,1.5 v9 h-2" fill="none" stroke="#111" stroke-width="1" transform="translate(46,5)" shape-rendering="crispEdges"/>
<path d="M3,0 l1,1.5 M9,0 l-1,1.5 M1.5,2.5 h9 v5 h-9 z M1.5,4.5 h9 M6.5,2.5 v8 M0,8.5 h12" fill="none" stroke="#111" stroke-width="1" transform="translate(58,5)" shape-rendering="crispEdges"/>
<defs><linearGradient id="bk" x1="0" y1="0" x2="1" y2="1"><stop offset="0" stop-color="#f8d840"/><stop offset="1" stop-color="#d8a010"/></linearGradient><linearGradient id="cl" x1="0" y1="0" x2="0" y2="1"><stop offset="0" stop-color="#ffffff"/><stop offset="1" stop-color="#b8c4d8"/></linearGradient><linearGradient id="bx" x1="0" y1="0" x2="0" y2="1"><stop offset="0" stop-color="#40b0ff"/><stop offset="1" stop-color="#0a80e8"/></linearGradient></defs>
<path d="M82.5,13.5 L90.5,19.5 L98,13.5 L97,12 L90,18 L83,12.5 Z" fill="#c8a050" stroke="#9a6010" stroke-width="0.8" shape-rendering="geometricPrecision"/>
<path d="M87,5 L96.5,11.5 L90,18 L82.5,12.5 Z" fill="url(#bk)" stroke="#a06a10" stroke-width="1" shape-rendering="geometricPrecision"/>
<path d="M84,13.2 L90,17.2" fill="none" stroke="#f8e8a0" stroke-width="1" shape-rendering="geometricPrecision"/>
<path d="M112.5,4.5 h10 v9 h-10 z" fill="url(#bx)" stroke="#1a78d8" stroke-width="1" shape-rendering="geometricPrecision"/>
<path d="M113.5,5.5 l2,2 v6" fill="none" stroke="#d0ecff" stroke-width="1" shape-rendering="geometricPrecision"/>
<rect x="117" y="9" width="5" height="1" fill="#ffffff"/>
<path d="M111.5,19.5 c-2,0 -2,-4 0.5,-4.5 c0.5,-2 3,-2.5 4,-1 c1,-2 4,-2.5 5.5,-0.5 c1.5,-1 4,0 3.8,2 c2,0.5 1.5,4 -0.5,4 z" fill="url(#cl)" stroke="#4a5f90" stroke-width="1" shape-rendering="geometricPrecision"/>
<path d="M146,12 L146,4.5 A7.5,7.5 0 0,1 146,19.5 Z" fill="#c8e4c0" shape-rendering="geometricPrecision"/>
<circle cx="146" cy="12" r="7.5" fill="none" stroke="#8aa8d8" stroke-width="1" shape-rendering="geometricPrecision"/>
<circle cx="146" cy="12" r="5" fill="none" stroke="#5a88d0" stroke-width="1" shape-rendering="geometricPrecision"/>
<path d="M146,19.5 a7.5,7.5 0 0,0 7.5,-7.5" fill="none" stroke="#7ab070" stroke-width="1.2" shape-rendering="geometricPrecision"/>
<circle cx="146" cy="12" r="2" fill="#2a62c8" shape-rendering="geometricPrecision"/>
<rect x="146" y="12" width="1" height="8" fill="#20a020"/>
<path d="M166,12 L181,12 L175,19 L171,19 Z" fill="#f0d040" stroke="#c0a020" stroke-width="1" shape-rendering="geometricPrecision"/>
<ellipse cx="173.5" cy="9.5" rx="7.5" ry="3" fill="#60a8e0" stroke="#3070b0" stroke-width="1" shape-rendering="geometricPrecision"/>
<ellipse cx="173.5" cy="7.5" rx="4" ry="3" fill="#80c0f0" shape-rendering="geometricPrecision"/>
<circle cx="177.5" cy="16" r="4" fill="#d82010" shape-rendering="geometricPrecision"/>
<rect x="176" y="14" width="3" height="3" fill="#ffffff"/>
<path d="M4,0 l-1,1.5 M0.5,1.5 h9 v9.5 h-9 z M0.5,4.5 h9 M0.5,7 h9 M0.5,9.5 h9" fill="none" stroke="#111" stroke-width="1" transform="translate(187,5)" shape-rendering="crispEdges"/>
<path d="M0.5,1.5 h4.5 M0,4.5 h6 M2.5,4.5 l-2,5 h4.5 M3.5,7.5 l1.5,2.5 M4.5,3 h6 v7.5 h-2 M7.5,0 v6 l-2.5,4.5" fill="none" stroke="#111" stroke-width="1" transform="translate(199,5)" shape-rendering="crispEdges"/>
<path d="M5.5,0 v1.5 M0,2.5 h11.5 M3,4 l-2,2 M8.5,4 l2,2 M2.5,6.5 l7,4.5 M9,6.5 l-7.5,4.5" fill="none" stroke="#111" stroke-width="1" transform="translate(211,5)" shape-rendering="crispEdges"/>
<path d="M1.5,0.5 h8 v4 h-8 z M1.5,2.5 h8 M3,5.5 l-2,2 M2.5,6.5 h8 v4 h-1.5 M5,6.5 l-3,4 M7.5,6.5 l-3,4" fill="none" stroke="#111" stroke-width="1" transform="translate(223,5)" shape-rendering="crispEdges"/>
<rect x="241" y="0" width="1" height="24" fill="#a0a0a0"/>
<rect x="242" y="0" width="1" height="24" fill="#ffffff"/>
<rect x="245" y="2" width="3" height="1" fill="#a0a0a0"/>
<rect x="245" y="4" width="3" height="1" fill="#a0a0a0"/>
<rect x="245" y="6" width="3" height="1" fill="#a0a0a0"/>
<rect x="245" y="8" width="3" height="1" fill="#a0a0a0"/>
<rect x="245" y="10" width="3" height="1" fill="#a0a0a0"/>
<rect x="245" y="12" width="3" height="1" fill="#a0a0a0"/>
<rect x="245" y="14" width="3" height="1" fill="#a0a0a0"/>
<rect x="245" y="16" width="3" height="1" fill="#a0a0a0"/>
<rect x="245" y="18" width="3" height="1" fill="#a0a0a0"/>
<rect x="245" y="20" width="3" height="1" fill="#a0a0a0"/>
<rect x="259" y="6" width="1" height="14" fill="#5a5a5a"/>
<rect x="257" y="17" width="14" height="1" fill="#5a5a5a"/>
<polygon points="257.5,8 259.5,5 261.5,8" fill="#5a5a5a" shape-rendering="geometricPrecision"/>
<polygon points="269,15 272,17.5 269,20" fill="#5a5a5a" shape-rendering="geometricPrecision"/>
<rect x="265" y="9" width="1" height="6" fill="#108010"/>
<rect x="265" y="9" width="3" height="1" fill="#108010"/>
<rect x="263" y="14" width="2" height="1" fill="#108010"/>
<rect x="279" y="0" width="25" height="23" fill="#fbfbfb"/>
<rect x="279" y="0" width="25" height="1" fill="#a0a0a0"/>
<rect x="279" y="0" width="1" height="22" fill="#a0a0a0"/>
<rect x="279" y="22" width="26" height="1" fill="#ffffff"/>
<rect x="304" y="0" width="1" height="23" fill="#ffffff"/>
<rect x="287" y="6" width="1" height="14" fill="#5a5a5a"/>
<rect x="285" y="17" width="14" height="1" fill="#5a5a5a"/>
<polygon points="285.5,8 287.5,5 289.5,8" fill="#5a5a5a" shape-rendering="geometricPrecision"/>
<polygon points="297,15 300,17.5 297,20" fill="#5a5a5a" shape-rendering="geometricPrecision"/>
<rect x="293" y="4" width="1" height="12" fill="#008000"/>
<rect x="291" y="6" width="5" height="8" fill="#008000"/>
<rect x="292" y="7" width="3" height="6" fill="#40e040"/>
<rect x="315" y="6" width="1" height="14" fill="#5a5a5a"/>
<rect x="313" y="17" width="14" height="1" fill="#5a5a5a"/>
<polygon points="313.5,8 315.5,5 317.5,8" fill="#5a5a5a" shape-rendering="geometricPrecision"/>
<polygon points="325,15 328,17.5 325,20" fill="#5a5a5a" shape-rendering="geometricPrecision"/>
<path d="M314,14.5 Q319,7 322,9.5 T326,13.5" fill="none" stroke="#108010" stroke-width="1" shape-rendering="geometricPrecision"/>
<rect x="336" y="1" width="1" height="21" fill="#a0a0a0"/>
<rect x="337" y="1" width="1" height="21" fill="#ffffff"/>
<circle cx="351.5" cy="9.5" r="5.5" fill="#d8ecfc" stroke="#2a72c8" stroke-width="1.3" shape-rendering="geometricPrecision"/>
<path d="M355,13 L360,18" stroke="#b08010" stroke-width="3" shape-rendering="geometricPrecision"/>
<path d="M355,13 L360,18" stroke="#f0d050" stroke-width="1.3" shape-rendering="geometricPrecision"/>
<rect x="349" y="9" width="6" height="2" fill="#3070c0"/>
<rect x="351" y="6" width="2" height="7" fill="#3070c0"/>
<circle cx="379.5" cy="9.5" r="5.5" fill="#d8ecfc" stroke="#2a72c8" stroke-width="1.3" shape-rendering="geometricPrecision"/>
<path d="M383,13 L388,18" stroke="#b08010" stroke-width="3" shape-rendering="geometricPrecision"/>
<path d="M383,13 L388,18" stroke="#f0d050" stroke-width="1.3" shape-rendering="geometricPrecision"/>
<rect x="377" y="9" width="6" height="2" fill="#3070c0"/>
<rect x="401" y="4" width="8" height="8" fill="#3c9c10"/>
<rect x="409" y="4" width="8" height="8" fill="#1850d0"/>
<rect x="401" y="12" width="8" height="8" fill="#1850d0"/>
<rect x="409" y="12" width="8" height="8" fill="#3c9c10"/>
<rect x="402" y="7" width="6" height="3" fill="#e8f0f8"/>
<rect x="410" y="7" width="6" height="3" fill="#e8f0f8"/>
<rect x="402" y="15" width="6" height="3" fill="#e8f0f8"/>
<rect x="410" y="15" width="6" height="3" fill="#e8f0f8"/>
<rect x="426" y="1" width="1" height="21" fill="#a0a0a0"/>
<rect x="427" y="1" width="1" height="21" fill="#ffffff"/>
<rect x="431" y="0" width="25" height="23" fill="#fbfbfb"/>
<rect x="431" y="0" width="25" height="1" fill="#a0a0a0"/>
<rect x="431" y="0" width="1" height="22" fill="#a0a0a0"/>
<rect x="431" y="22" width="26" height="1" fill="#ffffff"/>
<rect x="456" y="0" width="1" height="23" fill="#ffffff"/>
<rect x="439" y="6" width="1" height="14" fill="#5a5a5a"/>
<rect x="437" y="17" width="14" height="1" fill="#5a5a5a"/>
<polygon points="437.5,8 439.5,5 441.5,8" fill="#5a5a5a" shape-rendering="geometricPrecision"/>
<polygon points="449,15 452,17.5 449,20" fill="#5a5a5a" shape-rendering="geometricPrecision"/>
<polygon points="445,8 449,11.5 445,15" fill="#20c020" stroke="#108010" stroke-width="1" shape-rendering="geometricPrecision"/>
<rect x="459" y="0" width="25" height="23" fill="#fbfbfb"/>
<rect x="459" y="0" width="25" height="1" fill="#a0a0a0"/>
<rect x="459" y="0" width="1" height="22" fill="#a0a0a0"/>
<rect x="459" y="22" width="26" height="1" fill="#ffffff"/>
<rect x="484" y="0" width="1" height="23" fill="#ffffff"/>
<rect x="467" y="6" width="1" height="14" fill="#5a5a5a"/>
<rect x="465" y="17" width="14" height="1" fill="#5a5a5a"/>
<polygon points="465.5,8 467.5,5 469.5,8" fill="#5a5a5a" shape-rendering="geometricPrecision"/>
<polygon points="477,15 480,17.5 477,20" fill="#5a5a5a" shape-rendering="geometricPrecision"/>
<rect x="473" y="6" width="1" height="10" fill="#1a70b0"/>
<polygon points="474,11.5 478,8.5 478,14.5" fill="#e04010" shape-rendering="geometricPrecision"/>
<rect x="476" y="11" width="4" height="1" fill="#e04010"/>
<rect x="488" y="1" width="1" height="21" fill="#a0a0a0"/>
<rect x="489" y="1" width="1" height="21" fill="#ffffff"/>
<path d="M498.5,4.5 h8 l3,3 v10 h-11 z" fill="#ffffff" stroke="#6a6a6a" stroke-width="1" shape-rendering="geometricPrecision"/>
<rect x="500" y="6" width="3" height="2" fill="#8a8a8a"/>
<rect x="500" y="10" width="7" height="1" fill="#8a8a8a"/>
<rect x="500" y="12" width="6" height="1" fill="#8a8a8a"/>
<rect x="500" y="14" width="5" height="1" fill="#8a8a8a"/>
<path d="M506.5,10.5 h3 v4 h4 v3 h-4 v4 h-3 v-4 h-4 v-3 h4 z" fill="#22e622" stroke="#0a8a0a" stroke-width="1" shape-rendering="geometricPrecision"/>
<rect x="520" y="11" width="5" height="1" fill="#000"/>
<rect x="521" y="12" width="3" height="1" fill="#000"/>
<rect x="522" y="13" width="1" height="1" fill="#000"/>
<circle cx="544" cy="12" r="7" fill="#ffffff" stroke="#1860c8" stroke-width="2.4" shape-rendering="geometricPrecision"/>
<circle cx="544" cy="12" r="8.2" fill="none" stroke="#0a4aa0" stroke-width="0.8" shape-rendering="geometricPrecision"/>
<path d="M543.5,8 v4.5 h3" fill="none" stroke="#222" stroke-width="1.3" shape-rendering="geometricPrecision"/>
<rect x="559" y="11" width="5" height="1" fill="#000"/>
<rect x="560" y="12" width="3" height="1" fill="#000"/>
<rect x="561" y="13" width="1" height="1" fill="#000"/>
<rect x="575" y="5" width="16" height="14" fill="#3a72c8"/>
<rect x="576" y="6" width="14" height="2" fill="#a8d0f8"/>
<rect x="576" y="8" width="14" height="4" fill="#ffffff"/>
<rect x="576" y="13" width="14" height="5" fill="#ffffff"/>
<rect x="576" y="12" width="14" height="1" fill="#6a9ad8"/>
<path d="M577,10.5 l3,-1 l2,0.5 l2,-1 l2,1 l2,-1.5" fill="none" stroke="#b02010" stroke-width="1" shape-rendering="geometricPrecision"/>
<path d="M577,16.5 l2,-1 l2,0.5 l2,-1.5 l2,1.5 l2,-1" fill="none" stroke="#20a020" stroke-width="1" shape-rendering="geometricPrecision"/>
<rect x="598" y="11" width="5" height="1" fill="#000"/>
<rect x="599" y="12" width="3" height="1" fill="#000"/>
<rect x="600" y="13" width="1" height="1" fill="#000"/>
<rect x="609" y="0" width="1" height="24" fill="#a0a0a0"/>
<rect x="610" y="0" width="1" height="24" fill="#ffffff"/>
<rect x="613" y="2" width="3" height="1" fill="#a0a0a0"/>
<rect x="613" y="4" width="3" height="1" fill="#a0a0a0"/>
<rect x="613" y="6" width="3" height="1" fill="#a0a0a0"/>
<rect x="613" y="8" width="3" height="1" fill="#a0a0a0"/>
<rect x="613" y="10" width="3" height="1" fill="#a0a0a0"/>
<rect x="613" y="12" width="3" height="1" fill="#a0a0a0"/>
<rect x="613" y="14" width="3" height="1" fill="#a0a0a0"/>
<rect x="613" y="16" width="3" height="1" fill="#a0a0a0"/>
<rect x="613" y="18" width="3" height="1" fill="#a0a0a0"/>
<rect x="613" y="20" width="3" height="1" fill="#a0a0a0"/>
<rect x="619" y="0" width="25" height="23" fill="#fbfbfb"/>
<rect x="619" y="0" width="25" height="1" fill="#a0a0a0"/>
<rect x="619" y="0" width="1" height="22" fill="#a0a0a0"/>
<rect x="619" y="22" width="26" height="1" fill="#ffffff"/>
<rect x="644" y="0" width="1" height="23" fill="#ffffff"/>
<polygon points="627,5 627,17 630,14 632.5,19 634,18.3 631.5,13.2 635,13" fill="#4a4a4a" shape-rendering="geometricPrecision"/>
<rect x="652" y="12" width="6" height="1" fill="#4a4a4a"/>
<rect x="661" y="12" width="6" height="1" fill="#4a4a4a"/>
<rect x="659" y="5" width="1" height="6" fill="#4a4a4a"/>
<rect x="659" y="14" width="1" height="6" fill="#4a4a4a"/>
<rect x="676" y="1" width="1" height="21" fill="#a0a0a0"/>
<rect x="677" y="1" width="1" height="21" fill="#ffffff"/>
<rect x="693" y="6" width="1" height="13" fill="#4a4a4a"/>
<rect x="716" y="12" width="12" height="1" fill="#4a4a4a"/>
<path d="M744,18.5 L756,6.5" stroke="#404040" stroke-width="1.4" shape-rendering="geometricPrecision"/>
<path d="M770,14 L778,6 M772,18 L783,7 M774,21 L782,13" stroke="#4a4a4a" stroke-width="1" shape-rendering="geometricPrecision"/>
<text x="781" y="21" font-size="6.5" font-weight="bold" fill="#4a4a4a">E</text>
<rect x="799" y="5" width="1" height="1" fill="#4a4a4a"/>
<rect x="801" y="5" width="1" height="1" fill="#4a4a4a"/>
<rect x="803" y="5" width="1" height="1" fill="#4a4a4a"/>
<rect x="805" y="5" width="1" height="1" fill="#4a4a4a"/>
<rect x="807" y="5" width="1" height="1" fill="#4a4a4a"/>
<rect x="809" y="5" width="1" height="1" fill="#4a4a4a"/>
<rect x="811" y="5" width="1" height="1" fill="#4a4a4a"/>
<rect x="799" y="8" width="1" height="1" fill="#4a4a4a"/>
<rect x="801" y="8" width="1" height="1" fill="#4a4a4a"/>
<rect x="803" y="8" width="1" height="1" fill="#4a4a4a"/>
<rect x="805" y="8" width="1" height="1" fill="#4a4a4a"/>
<rect x="807" y="8" width="1" height="1" fill="#4a4a4a"/>
<rect x="809" y="8" width="1" height="1" fill="#4a4a4a"/>
<rect x="811" y="8" width="1" height="1" fill="#4a4a4a"/>
<rect x="799" y="12" width="1" height="1" fill="#4a4a4a"/>
<rect x="801" y="12" width="1" height="1" fill="#4a4a4a"/>
<rect x="803" y="12" width="1" height="1" fill="#4a4a4a"/>
<rect x="805" y="12" width="1" height="1" fill="#4a4a4a"/>
<rect x="807" y="12" width="1" height="1" fill="#4a4a4a"/>
<rect x="809" y="12" width="1" height="1" fill="#4a4a4a"/>
<rect x="811" y="12" width="1" height="1" fill="#4a4a4a"/>
<rect x="799" y="16" width="1" height="1" fill="#4a4a4a"/>
<rect x="801" y="16" width="1" height="1" fill="#4a4a4a"/>
<rect x="803" y="16" width="1" height="1" fill="#4a4a4a"/>
<rect x="805" y="16" width="1" height="1" fill="#4a4a4a"/>
<rect x="807" y="16" width="1" height="1" fill="#4a4a4a"/>
<rect x="809" y="16" width="1" height="1" fill="#4a4a4a"/>
<rect x="811" y="16" width="1" height="1" fill="#4a4a4a"/>
<text x="808.5" y="21" font-size="6.5" font-weight="bold" fill="#4a4a4a">F</text>
<text x="829.5" y="16.5" font-size="11" font-weight="bold" fill="#555">A</text>
<rect x="856" y="6" width="1" height="1" fill="#4a4a4a"/>
<rect x="856" y="18" width="1" height="1" fill="#4a4a4a"/>
<rect x="858" y="6" width="1" height="1" fill="#4a4a4a"/>
<rect x="858" y="18" width="1" height="1" fill="#4a4a4a"/>
<rect x="860" y="6" width="1" height="1" fill="#4a4a4a"/>
<rect x="860" y="18" width="1" height="1" fill="#4a4a4a"/>
<rect x="862" y="6" width="1" height="1" fill="#4a4a4a"/>
<rect x="862" y="18" width="1" height="1" fill="#4a4a4a"/>
<rect x="864" y="6" width="1" height="1" fill="#4a4a4a"/>
<rect x="864" y="18" width="1" height="1" fill="#4a4a4a"/>
<rect x="866" y="6" width="1" height="1" fill="#4a4a4a"/>
<rect x="866" y="18" width="1" height="1" fill="#4a4a4a"/>
<rect x="868" y="6" width="1" height="1" fill="#4a4a4a"/>
<rect x="868" y="18" width="1" height="1" fill="#4a4a4a"/>
<rect x="856" y="6" width="1" height="1" fill="#4a4a4a"/>
<rect x="868" y="6" width="1" height="1" fill="#4a4a4a"/>
<rect x="856" y="8" width="1" height="1" fill="#4a4a4a"/>
<rect x="868" y="8" width="1" height="1" fill="#4a4a4a"/>
<rect x="856" y="10" width="1" height="1" fill="#4a4a4a"/>
<rect x="868" y="10" width="1" height="1" fill="#4a4a4a"/>
<rect x="856" y="12" width="1" height="1" fill="#4a4a4a"/>
<rect x="868" y="12" width="1" height="1" fill="#4a4a4a"/>
<rect x="856" y="14" width="1" height="1" fill="#4a4a4a"/>
<rect x="868" y="14" width="1" height="1" fill="#4a4a4a"/>
<rect x="856" y="16" width="1" height="1" fill="#4a4a4a"/>
<rect x="868" y="16" width="1" height="1" fill="#4a4a4a"/>
<rect x="856" y="18" width="1" height="1" fill="#4a4a4a"/>
<rect x="868" y="18" width="1" height="1" fill="#4a4a4a"/>
<rect x="859" y="9" width="7" height="2" fill="#4a4a4a"/>
<rect x="861" y="9" width="2" height="8" fill="#4a4a4a"/>
<polygon points="883,10 886.5,6 890,10 886.5,11" fill="#4a4a4a" shape-rendering="geometricPrecision"/>
<polygon points="890,15 897,15 893.5,19" fill="#4a4a4a" shape-rendering="geometricPrecision"/>
<path d="M885,13 l2,2 l4,-5" fill="none" stroke="#4a4a4a" stroke-width="1.2" shape-rendering="geometricPrecision"/>
<rect x="904" y="11" width="5" height="1" fill="#000"/>
<rect x="905" y="12" width="3" height="1" fill="#000"/>
<rect x="906" y="13" width="1" height="1" fill="#000"/>
<rect x="915" y="0" width="1" height="24" fill="#a0a0a0"/>
<rect x="916" y="0" width="1" height="24" fill="#ffffff"/>
<rect x="919" y="2" width="3" height="1" fill="#a0a0a0"/>
<rect x="919" y="4" width="3" height="1" fill="#a0a0a0"/>
<rect x="919" y="6" width="3" height="1" fill="#a0a0a0"/>
<rect x="919" y="8" width="3" height="1" fill="#a0a0a0"/>
<rect x="919" y="10" width="3" height="1" fill="#a0a0a0"/>
<rect x="919" y="12" width="3" height="1" fill="#a0a0a0"/>
<rect x="919" y="14" width="3" height="1" fill="#a0a0a0"/>
<rect x="919" y="16" width="3" height="1" fill="#a0a0a0"/>
<rect x="919" y="18" width="3" height="1" fill="#a0a0a0"/>
<rect x="919" y="20" width="3" height="1" fill="#a0a0a0"/>
<rect x="1065" y="0" width="25" height="23" fill="#fbfbfb"/>
<rect x="1065" y="0" width="25" height="1" fill="#a0a0a0"/>
<rect x="1065" y="0" width="1" height="22" fill="#a0a0a0"/>
<rect x="1065" y="22" width="26" height="1" fill="#ffffff"/>
<rect x="1090" y="0" width="1" height="23" fill="#ffffff"/>
<text x="930.5" y="16.2" font-size="9.6" fill="#333" textLength="12.5" lengthAdjust="spacingAndGlyphs">M1</text>
<text x="958.5" y="16.2" font-size="9.6" fill="#333" textLength="12.5" lengthAdjust="spacingAndGlyphs">M5</text>
<text x="984.5" y="16.2" font-size="9.6" fill="#333" textLength="18" lengthAdjust="spacingAndGlyphs">M15</text>
<text x="1012.5" y="16.2" font-size="9.6" fill="#333" textLength="18" lengthAdjust="spacingAndGlyphs">M30</text>
<text x="1043.5" y="16.2" font-size="9.6" fill="#333" textLength="11.5" lengthAdjust="spacingAndGlyphs">H1</text>
<text x="1070.5" y="16.2" font-size="9.6" fill="#333" textLength="12.5" lengthAdjust="spacingAndGlyphs">H4</text>
<text x="1099.5" y="16.2" font-size="9.6" fill="#333" textLength="11.5" lengthAdjust="spacingAndGlyphs">D1</text>
<text x="1126.5" y="16.2" font-size="9.6" fill="#333" textLength="14" lengthAdjust="spacingAndGlyphs">W1</text>
<text x="1153.5" y="16.2" font-size="9.6" fill="#333" textLength="15" lengthAdjust="spacingAndGlyphs">MN</text>
<rect x="1176" y="0" width="1" height="24" fill="#a0a0a0"/>
<rect x="1177" y="0" width="1" height="24" fill="#ffffff"/>
<circle cx="1646.5" cy="9.5" r="3.8" fill="#f4f4ff" stroke="#2a62d0" stroke-width="1.2" shape-rendering="geometricPrecision"/>
<path d="M1643.5,12.5 L1639,17" stroke="#2a62d0" stroke-width="2.6" stroke-linecap="round" shape-rendering="geometricPrecision"/>
<ellipse cx="1669" cy="14" rx="5.5" ry="4.5" fill="#e8e8f0" stroke="#a0a0a8" stroke-width="1" shape-rendering="geometricPrecision"/>
<polygon points="1666,17 1667,21 1670,18" fill="#a0a0a8" shape-rendering="geometricPrecision"/>
<circle cx="1677.5" cy="9.5" r="8" fill="#dc2e14" shape-rendering="geometricPrecision"/>
<text x="1674.5" y="14" font-size="10" font-family="Liberation Serif" font-weight="bold" fill="#fff">1</text></svg>
</body></html>
